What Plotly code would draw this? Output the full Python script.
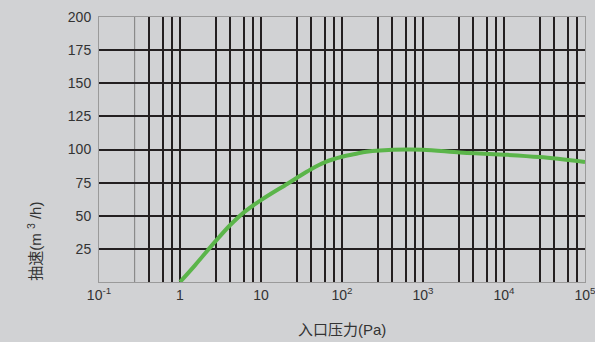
import plotly.graph_objects as go

# Curve data: inlet pressure (Pa) vs pumping speed (m3/h)
pressure = [1, 1.53, 2.75, 4.2, 6.2, 10, 21, 27.5, 41, 62, 100, 145, 200, 295,
            630, 1000, 2860, 5000, 10000, 27500, 100000]
speed = [0, 12.6, 30.8, 43.2, 52.7, 61.8, 74, 78.5, 85, 90.5, 94.5, 96.6, 98.3, 99.3,
         100, 99.8, 97.8, 97, 96.1, 94.3, 90.6]

# Axis ticks
x_tickvals = [0.1, 1, 10, 100, 1000, 10000, 100000]
x_ticktext = ["10<sup>-1</sup>", "1", "10", "10<sup>2</sup>", "10<sup>3</sup>",
              "10<sup>4</sup>", "10<sup>5</sup>"]
y_tickvals = [25, 50, 75, 100, 125, 150, 175, 200]
y_gridvals = [25, 50, 75, 100, 125, 150, 175]

# Vertical grid positions within each decade
decades = [0.1, 1, 10, 100, 1000, 10000]
sub_positions = [2.75, 4.2, 6.2, 8, 10]
x_gridvals = [d * s for d in decades for s in sub_positions]
x_gridvals = [v for v in x_gridvals if 0.3 < v < 99999]
light_line = 0.275

BG = "#d1d2d4"
GRID = "#231f20"
TXT = "#333333"
FONT = "Liberation Sans, Arial, Noto Sans CJK SC"

fig = go.Figure()
fig.add_trace(go.Scatter(
    x=pressure, y=speed, mode="lines",
    line=dict(color="#5bb54a", width=4, shape="spline", smoothing=1.0),
    showlegend=False, hoverinfo="skip",
))

fig.add_shape(type="line", xref="x", yref="paper", x0=light_line, x1=light_line,
              y0=0, y1=1, line=dict(color="#8a8a8a", width=1.2), layer="below")

fig.update_layout(
    width=595, height=342,
    margin=dict(l=99, r=10, t=17, b=60),
    paper_bgcolor=BG, plot_bgcolor=BG,
    font=dict(family=FONT, size=14, color=TXT),
    xaxis=dict(
        type="log", range=[-1, 5], automargin=False,
        tickmode="array", tickvals=x_tickvals, ticktext=x_ticktext,
        ticklabeloverflow="allow",
        showgrid=False, ticks="", zeroline=False,
        showline=True, mirror=True, linecolor="#9a9a9a", linewidth=1,
        tickfont=dict(size=14, color=TXT),
        minor=dict(tickmode="array", tickvals=x_gridvals, showgrid=True,
                   gridcolor=GRID, gridwidth=2, ticks=""),
    ),
    yaxis=dict(
        range=[0, 200], automargin=False,
        tickmode="array", tickvals=y_tickvals,
        showgrid=False, ticks="", zeroline=False,
        showline=True, mirror=True, linecolor="#9a9a9a", linewidth=1,
        tickfont=dict(size=14, color=TXT),
        ticklabelstandoff=4,
        minor=dict(tickmode="array", tickvals=y_gridvals, showgrid=True,
                   gridcolor=GRID, gridwidth=2, ticks=""),
    ),
    annotations=[
        dict(text="入口压力(Pa)", xref="paper", yref="paper", x=0.5, y=-0.181,
             xanchor="center", yanchor="middle", showarrow=False,
             font=dict(size=15, color=TXT)),
        dict(text="抽速(m <sup>3</sup> /h)", xref="paper", yref="paper", x=-0.132, y=0.155,
             xanchor="center", yanchor="middle", showarrow=False, textangle=-90,
             font=dict(size=15, color=TXT)),
    ],
)

fig.write_html(
    "out.html",
    config={"displayModeBar": False},
    post_script="document.body.style.margin='0';document.body.style.background='#d1d2d4';",
)
